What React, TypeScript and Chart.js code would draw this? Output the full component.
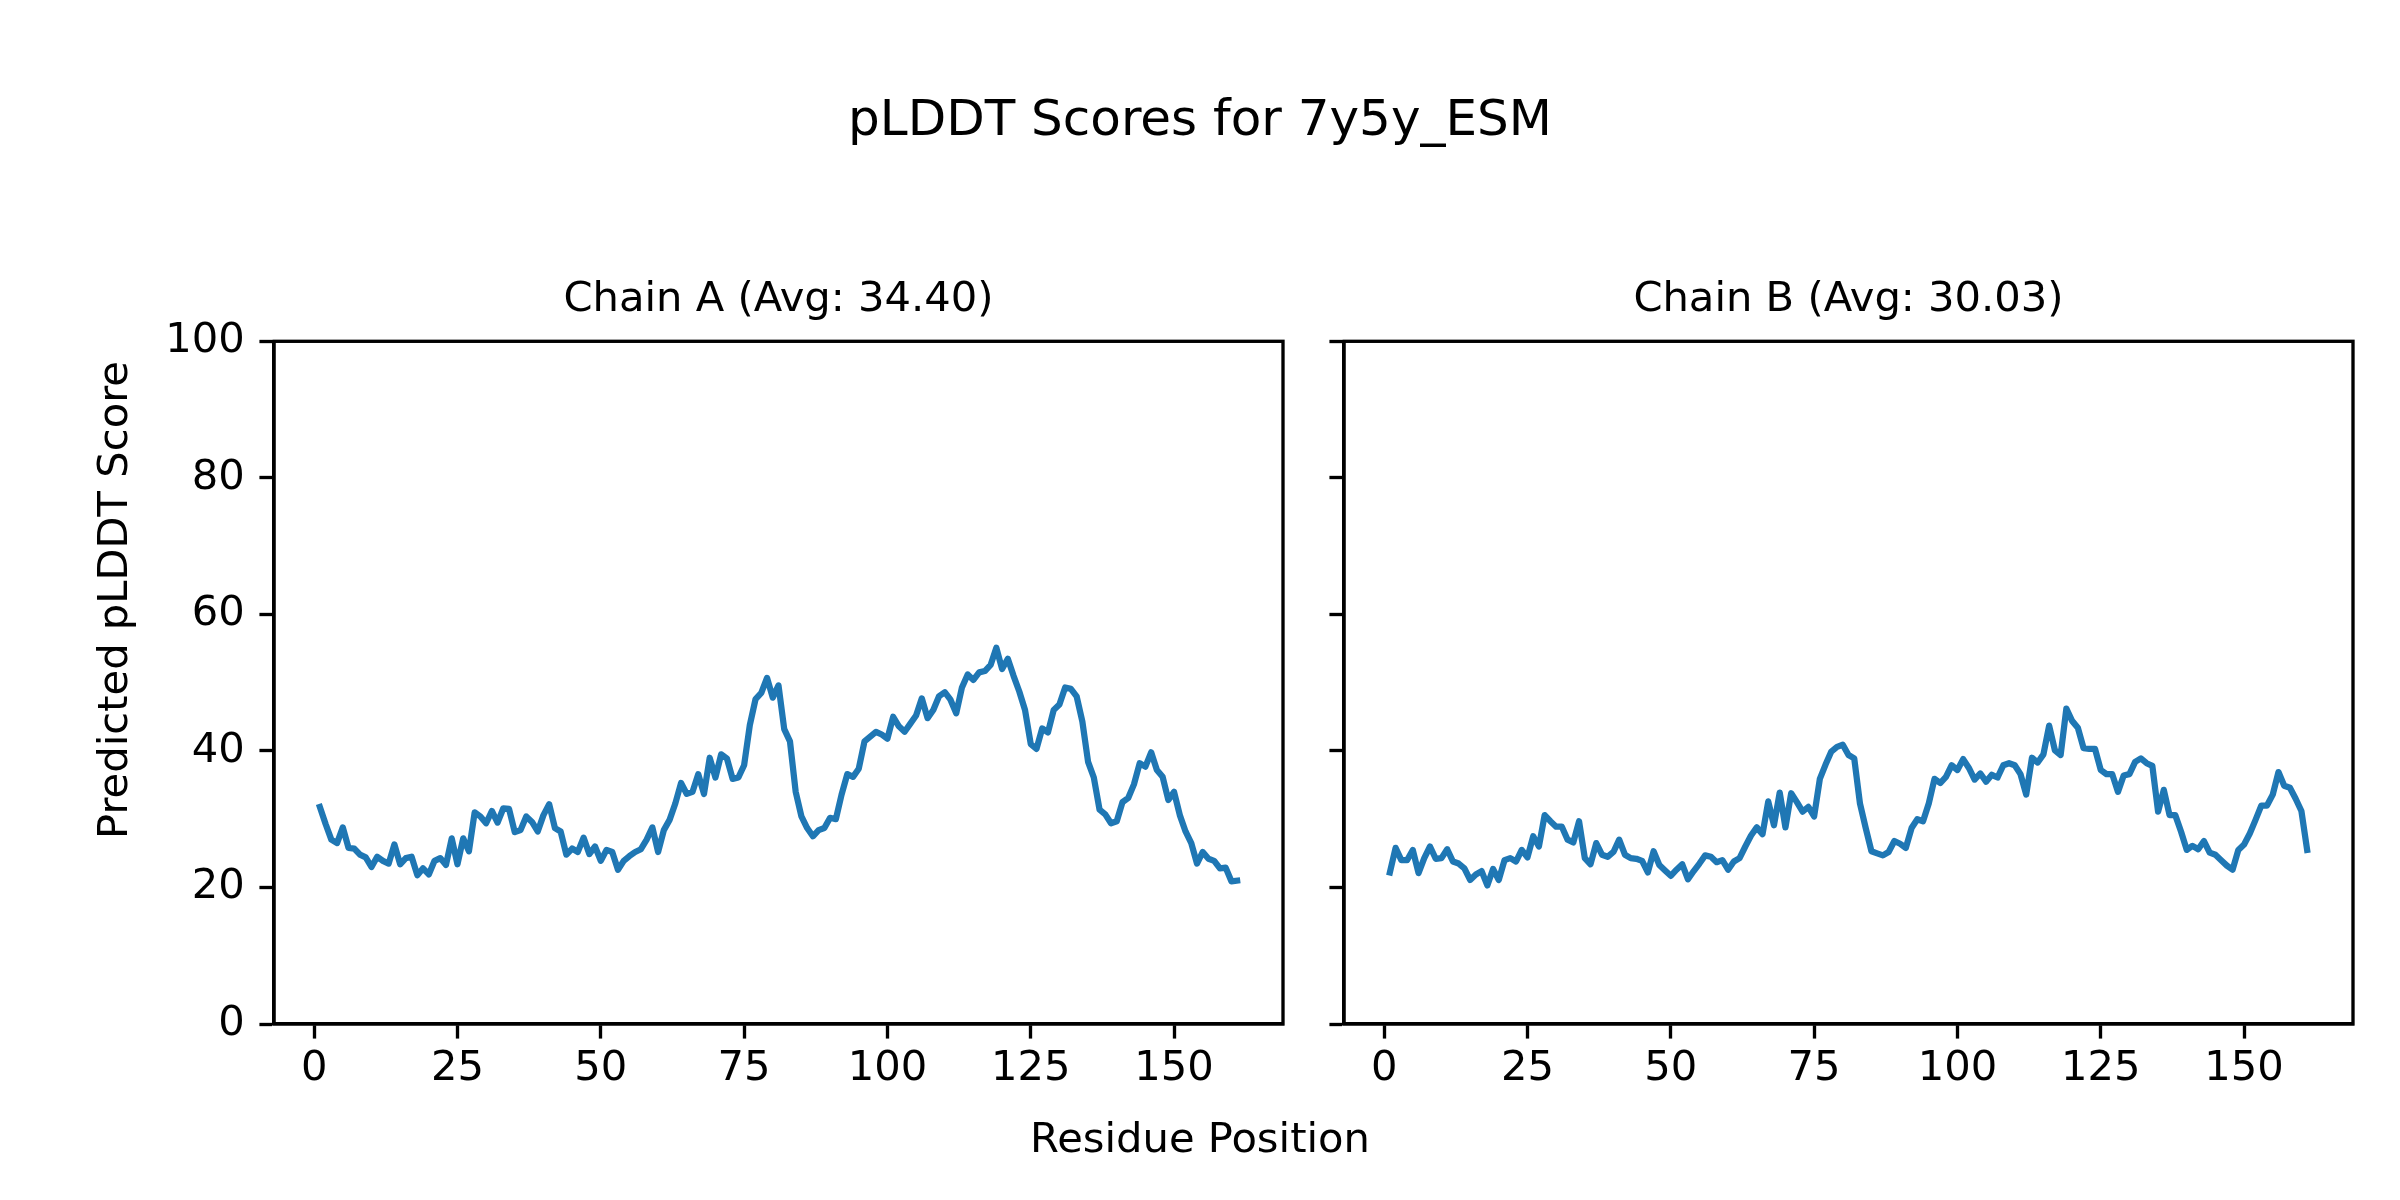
import React, { useEffect, useRef } from 'react';
import { Chart, registerables } from 'chart.js';

Chart.register(...registerables);

const FIG_TITLE = 'pLDDT Scores for 7y5y_ESM';
const X_LABEL = 'Residue Position';
const Y_LABEL = 'Predicted pLDDT Score';
const CHAIN_A_TITLE = 'Chain A (Avg: 34.40)';
const CHAIN_B_TITLE = 'Chain B (Avg: 30.03)';

const xTicks = [0, 25, 50, 75, 100, 125, 150];
const yTicks = [0, 20, 40, 60, 80, 100];

const chainA = [
  31.8, 29.3, 27.0, 26.5, 28.8, 25.8, 25.7, 24.8, 24.4, 23.0,
  24.5, 23.9, 23.5, 26.3, 23.4, 24.3, 24.5, 21.8, 22.8, 21.9,
  23.9, 24.3, 23.3, 27.2, 23.4, 27.2, 25.3, 31.0, 30.4, 29.4,
  31.2, 29.5, 31.6, 31.5, 28.1, 28.4, 30.4, 29.6, 28.2, 30.6,
  32.2, 28.7, 28.2, 24.8, 25.7, 25.2, 27.3, 24.9, 26.0, 23.9,
  25.5, 25.2, 22.6, 23.9, 24.6, 25.2, 25.6, 27.0, 28.8, 25.2,
  28.4, 29.9, 32.3, 35.3, 33.7, 34.0, 36.6, 33.7, 39.0, 36.1,
  39.5, 38.9, 35.9, 36.1, 37.9, 43.8, 47.6, 48.5, 50.7, 47.8,
  49.6, 43.2, 41.4, 34.0, 30.4, 28.7, 27.5, 28.4, 28.7, 30.2,
  30.0, 33.6, 36.6, 36.2, 37.4, 41.4, 42.1, 42.8, 42.4, 41.8,
  45.0, 43.6, 42.8, 44.0, 45.2, 47.7, 44.8, 46.0, 48.0, 48.6,
  47.5, 45.5, 49.3, 51.2, 50.4, 51.5, 51.7, 52.6, 55.1, 52.0,
  53.5, 51.0, 48.7, 46.0, 41.0, 40.3, 43.3, 42.7, 46.0, 46.8,
  49.3, 49.1, 48.0, 44.3, 38.4, 36.1, 31.4, 30.7, 29.4, 29.7,
  32.5, 33.1, 35.1, 38.2, 37.7, 39.8, 37.2, 36.2, 32.8, 34.0,
  30.6, 28.2, 26.5, 23.5, 25.2, 24.2, 23.9, 22.8, 22.9, 20.9,
  21.0,
];

const chainB = [
  22.2, 25.8, 24.0, 24.0, 25.5, 22.1, 24.3, 26.0, 24.2, 24.3,
  25.6, 23.8, 23.5, 22.8, 21.1, 21.9, 22.4, 20.3, 22.7, 21.1,
  24.0, 24.3, 23.8, 25.5, 24.4, 27.5, 26.0, 30.6, 29.7, 28.9,
  28.9, 27.0, 26.6, 29.7, 24.3, 23.4, 26.5, 24.8, 24.5, 25.2,
  27.0, 24.8, 24.3, 24.2, 23.9, 22.2, 25.3, 23.3, 22.5, 21.7,
  22.6, 23.4, 21.2, 22.4, 23.5, 24.7, 24.5, 23.7, 24.0, 22.6,
  23.8, 24.3, 26.0, 27.6, 28.8, 27.8, 32.6, 29.1, 33.9, 28.8,
  33.8, 32.5, 31.1, 31.8, 30.4, 35.9, 38.0, 39.9, 40.6, 40.9,
  39.4, 38.9, 32.3, 28.7, 25.3, 25.0, 24.7, 25.2, 26.8, 26.4,
  25.8, 28.7, 30.0, 29.7, 32.3, 35.9, 35.3, 36.2, 37.9, 37.2,
  38.8, 37.5, 35.8, 36.7, 35.5, 36.5, 36.1, 37.9, 38.2, 37.9,
  36.6, 33.6, 39.0, 38.3, 39.5, 43.7, 40.1, 39.4, 46.2, 44.4,
  43.4, 40.4, 40.3, 40.3, 37.2, 36.6, 36.6, 34.0, 36.4, 36.6,
  38.4, 38.9, 38.2, 37.8, 31.1, 34.3, 30.6, 30.6, 28.2, 25.5,
  26.1, 25.6, 26.8, 25.1, 24.8, 24.0, 23.2, 22.6, 25.5, 26.3,
  27.9, 29.9, 32.0, 32.0, 33.6, 36.9, 34.9, 34.6, 33.0, 31.2,
  25.5,
];

const W = 2400;
const H = 1200;
const FONT = "'DejaVu Sans', 'Liberation Sans', sans-serif";
const PT = 300 / 72;
const LINE_COLOR = '#1f77b4';
const SPINE = 0.8 * PT;
const TICK_LEN = 3.5 * PT;

const AX_TOP = 341.3;
const AX_BOTTOM = 1024;

const framePlugin = {
  id: 'frame',
  afterDraw(chart: any) {
    const { ctx, chartArea } = chart;
    ctx.save();
    ctx.strokeStyle = '#000';
    ctx.lineWidth = SPINE;
    ctx.lineJoin = 'miter';
    ctx.strokeRect(chartArea.left, chartArea.top, chartArea.right - chartArea.left, chartArea.bottom - chartArea.top);
    ctx.restore();
  },
};

const figureTextPlugin = {
  id: 'figureText',
  afterDraw(chart: any) {
    const { ctx } = chart;
    ctx.save();
    ctx.fillStyle = '#000';
    ctx.textAlign = 'center';
    ctx.textBaseline = 'alphabetic';
    ctx.font = `${12 * PT}px ${FONT}`;
    ctx.fillText(FIG_TITLE, W / 2, 135);
    ctx.font = `${10 * PT}px ${FONT}`;
    ctx.fillText(X_LABEL, W / 2, 1151.7);
    ctx.translate(126.5, H / 2);
    ctx.rotate(-Math.PI / 2);
    ctx.fillText(Y_LABEL, 0, 0);
    ctx.restore();
  },
};

function makeConfig(values: number[], title: string, left: number, right: number, showYLabels: boolean, extra: any[]) {
  const yWidth = showYLabels ? left : 100;
  const residues = values.map((_, i) => i + 1);
  return {
    type: 'line',
    data: {
      datasets: [
        {
          data: values.map((v, i) => ({ x: residues[i], y: v })),
          borderColor: LINE_COLOR,
          backgroundColor: LINE_COLOR,
          borderWidth: 1.5 * PT,
          pointRadius: 0,
          tension: 0,
          fill: false,
          borderJoinStyle: 'round',
          borderCapStyle: 'square',
        },
      ],
    },
    options: {
      responsive: false,
      animation: false,
      devicePixelRatio: 1,
      events: [],
      layout: {
        padding: { left: left - yWidth, right: W - right, top: 250, bottom: 0 },
      },
      plugins: {
        legend: { display: false },
        tooltip: { enabled: false },
        title: {
          display: true,
          text: title,
          fullSize: false,
          color: '#000',
          font: { family: FONT, size: 10 * PT, weight: 'normal', lineHeight: 1.2 },
          padding: { top: 25.6, bottom: AX_TOP - 250 - 25.6 - 12 * PT },
        },
      },
      scales: {
        x: {
          type: 'linear',
          min: -7,
          max: 169,
          afterBuildTicks: (scale: any) => {
            scale.ticks = xTicks.map((v) => ({ value: v }));
          },
          afterFit: (scale: any) => {
            scale.height = H - AX_BOTTOM;
          },
          grid: {
            display: true,
            drawOnChartArea: false,
            drawTicks: true,
            tickLength: TICK_LEN,
            tickWidth: SPINE,
            tickColor: '#000',
          },
          border: { display: true, color: '#000', width: SPINE },
          ticks: {
            color: '#000',
            padding: 5.3,
            maxRotation: 0,
            autoSkip: false,
            font: { family: FONT, size: 10 * PT, lineHeight: 1.2 },
          },
        },
        y: {
          type: 'linear',
          min: 0,
          max: 100,
          afterBuildTicks: (scale: any) => {
            scale.ticks = yTicks.map((v) => ({ value: v }));
          },
          afterFit: (scale: any) => {
            scale.width = yWidth;
          },
          grid: {
            display: true,
            drawOnChartArea: false,
            drawTicks: true,
            tickLength: TICK_LEN,
            tickWidth: SPINE,
            tickColor: '#000',
          },
          border: { display: true, color: '#000', width: SPINE },
          ticks: {
            display: showYLabels,
            color: '#000',
            padding: TICK_LEN,
            font: { family: FONT, size: 10 * PT, lineHeight: 1.2 },
          },
        },
      },
    },
    plugins: [framePlugin, ...extra],
  } as any;
}

export default function App() {
  const refA = useRef<HTMLCanvasElement | null>(null);
  const refB = useRef<HTMLCanvasElement | null>(null);

  useEffect(() => {
    document.body.style.margin = '0';
    const a = new Chart(refA.current as HTMLCanvasElement, makeConfig(chainA, CHAIN_A_TITLE, 274, 1283, true, [figureTextPlugin]));
    const b = new Chart(refB.current as HTMLCanvasElement, makeConfig(chainB, CHAIN_B_TITLE, 1344, 2353, false, []));
    return () => {
      a.destroy();
      b.destroy();
    };
  }, []);

  const canvasStyle: React.CSSProperties = { position: 'absolute', left: 0, top: 0, width: W, height: H };
  return (
    <div style={{ position: 'absolute', left: 0, top: 0, width: W, height: H, background: '#fff', overflow: 'hidden' }}>
      <canvas ref={refA} width={W} height={H} style={canvasStyle} />
      <canvas ref={refB} width={W} height={H} style={canvasStyle} />
    </div>
  );
}
